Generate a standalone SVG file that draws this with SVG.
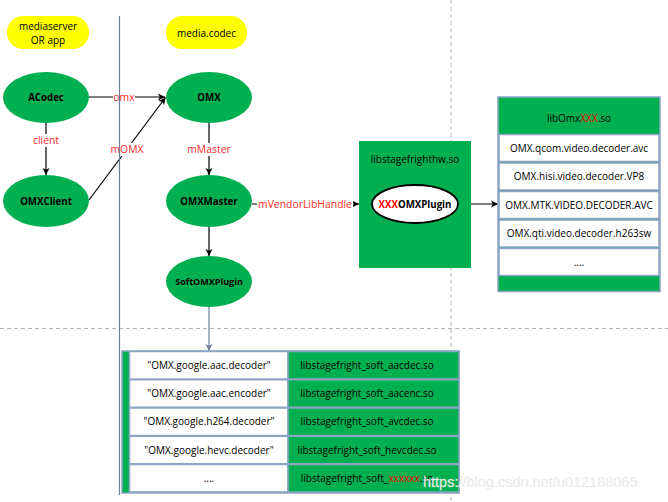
<svg xmlns="http://www.w3.org/2000/svg" width="668" height="502" viewBox="0 0 668 502">
<defs>
<marker id="ah" markerWidth="8" markerHeight="8" refX="7" refY="4" orient="auto" markerUnits="userSpaceOnUse">
<path d="M0,0.5 L7,4 L0,7.5 L1.8,4 Z" fill="#000"/>
</marker>
<marker id="ahb" markerWidth="8" markerHeight="8" refX="7" refY="4" orient="auto" markerUnits="userSpaceOnUse">
<path d="M0,0.5 L7,4 L0,7.5 L1.8,4 Z" fill="#6F8399"/>
</marker>
<style>
text{font-family:"Open Sans","Noto Sans","Liberation Sans",sans-serif;font-size:10px;fill:#000;text-anchor:middle}
.b{font-weight:bold;font-size:9.7px}
.r{fill:#FF0000}
.lbl{fill:#FF2A2A;font-size:10.4px}
.yl{fill:#FFFF00}
.gr{fill:#00B050}
.edge{stroke:#000;stroke-width:1.2;fill:none}
.cell{stroke:#8EA4C4;stroke-width:1.5}
.dash{stroke:#B3B3B3;stroke-width:1;stroke-dasharray:4 3;fill:none}
.wm{font-family:"Liberation Sans",Arial,sans-serif;font-size:14.5px;fill:#E2E2E2;text-anchor:start;stroke:#fff;stroke-width:0.4;stroke-opacity:0.6}
</style>
</defs>
<rect width="668" height="502" fill="#fff"/>
<g id="guides">
<line class="dash" x1="451" y1="0" x2="451" y2="502"/>
<line class="dash" x1="0" y1="328.5" x2="668" y2="328.5"/>
</g>
<g id="lane-mediaserver"><rect class="yl" x="7" y="16" width="82" height="33" rx="16"/><text x="48" y="29.5">mediaserver</text><text x="48" y="43.5">OR app</text></g>
<g id="lane-mediacodec"><rect class="yl" x="166" y="16" width="81" height="33" rx="16"/><text x="206.5" y="36.5">media.codec</text></g>
<g id="connectors">
<line class="edge" x1="89" y1="97" x2="165" y2="97" marker-end="url(#ah)"/>
<line class="edge" x1="46" y1="123" x2="46" y2="175" marker-end="url(#ah)"/>
<line class="edge" x1="89" y1="200" x2="165.5" y2="97.5" marker-end="url(#ah)" stroke-width="0.8"/>
<line class="edge" x1="209" y1="123" x2="209" y2="175" marker-end="url(#ah)"/>
<line class="edge" x1="209" y1="227" x2="209" y2="256" marker-end="url(#ah)"/>
<line class="edge" x1="252" y1="204" x2="359" y2="204" marker-end="url(#ah)"/>
<line class="edge" x1="458" y1="204" x2="498" y2="204" marker-end="url(#ah)"/>
<line x1="209" y1="307" x2="209" y2="351" stroke="#6F8399" stroke-width="1.2" marker-end="url(#ahb)"/>
<rect x="113" y="90" width="22" height="13" fill="#fff"/><text class="lbl" x="124" y="100.5">omx</text>
<rect x="30" y="134" width="32" height="13" fill="#fff"/><text class="lbl" x="46" y="144">client</text>
<rect x="110" y="143" width="34" height="13" fill="#fff"/><text class="lbl" x="127" y="152.5">mOMX</text>
<rect x="187" y="143" width="44" height="13" fill="#fff"/><text class="lbl" x="209" y="152.5">mMaster</text>
<rect x="257" y="198" width="96" height="13" fill="#fff"/><text class="lbl" x="305" y="207.5">mVendorLibHandle</text>
</g>
<line x1="119.5" y1="16" x2="119.5" y2="495" stroke="#6D7F92" stroke-width="1.2"/>
<g id="ACodec"><ellipse class="gr" cx="46" cy="97.5" rx="43" ry="25.5"/><text class="b" x="46" y="101">ACodec</text></g>
<g id="OMXClient"><ellipse class="gr" cx="46" cy="201" rx="43" ry="26"/><text class="b" x="46" y="204.5">OMXClient</text></g>
<g id="OMX"><ellipse class="gr" cx="209" cy="97.5" rx="43" ry="25.5"/><text class="b" x="209" y="101">OMX</text></g>
<g id="OMXMaster"><ellipse class="gr" cx="209" cy="201" rx="43" ry="26"/><text class="b" x="209" y="204.5">OMXMaster</text></g>
<g id="SoftOMXPlugin"><ellipse class="gr" cx="209" cy="281.5" rx="43" ry="25.5"/><text class="b" x="209" y="285" style="font-size:9px">SoftOMXPlugin</text></g>
<g id="libstagefrighthw">
<rect class="gr" x="359" y="141" width="112" height="127"/>
<text x="415" y="162.5">libstagefrighthw.so</text>
</g>
<g id="XXXOMXPlugin"><ellipse cx="415" cy="204" rx="43" ry="19" fill="#fff" stroke="#000" stroke-width="1.8"/><text class="b" x="415" y="207.5"><tspan class="r">XXX</tspan>OMXPlugin</text></g>
<g id="libOmxXXX">
<rect class="gr cell" x="498" y="97" width="162" height="194.5"/>
<text x="579" y="121.5">libOmx<tspan class="r">XXX</tspan>.so</text>
<rect class="cell" x="499" y="134.5" width="160" height="27" fill="#fff"/><text x="579" y="151.5">OMX.qcom.video.decoder.avc</text>
<rect class="cell" x="499" y="163" width="160" height="27" fill="#fff"/><text x="579" y="180">OMX.hisi.video.decoder.VP8</text>
<rect class="cell" x="499" y="191.5" width="160" height="27" fill="#fff"/><text x="579" y="208.5">OMX.MTK.VIDEO.DECODER.AVC</text>
<rect class="cell" x="499" y="220" width="160" height="27" fill="#fff"/><text x="579" y="237">OMX.qti.video.decoder.h263sw</text>
<rect class="cell" x="499" y="248.5" width="160" height="27" fill="#fff"/><text x="579" y="265.5">....</text>
</g>
<g id="softTable">
<rect class="gr cell" x="122" y="351" width="337" height="142"/>
<rect class="cell" x="129.5" y="351.5" width="158.5" height="27.5" fill="#fff"/><rect class="cell gr" x="288" y="351.5" width="171" height="27.5"/>
<text x="209" y="369">"OMX.google.aac.decoder"</text><text x="367" y="369">libstagefright_soft_aacdec.so</text>
<rect class="cell" x="129.5" y="379.75" width="158.5" height="27.5" fill="#fff"/><rect class="cell gr" x="288" y="379.75" width="171" height="27.5"/>
<text x="209" y="397">"OMX.google.aac.encoder"</text><text x="367" y="397">libstagefright_soft_aacenc.so</text>
<rect class="cell" x="129.5" y="408" width="158.5" height="27.5" fill="#fff"/><rect class="cell gr" x="288" y="408" width="171" height="27.5"/>
<text x="209" y="424.5">"OMX.google.h264.decoder"</text><text x="367" y="424.5">libstagefright_soft_avcdec.so</text>
<rect class="cell" x="129.5" y="436.25" width="158.5" height="27.5" fill="#fff"/><rect class="cell gr" x="288" y="436.25" width="171" height="27.5"/>
<text x="209" y="453.5">"OMX.google.hevc.decoder"</text><text x="367" y="453.5">libstagefright_soft_hevcdec.so</text>
<rect class="cell" x="129.5" y="464.5" width="158.5" height="27.5" fill="#fff"/><rect class="cell gr" x="288" y="464.5" width="171" height="27.5"/>
<text x="209" y="481.5">....</text><text x="367" y="481.5">libstagefright_soft_<tspan class="r">xxxxxx</tspan>.so</text>
</g>
<text class="wm" x="423" y="487">https://blog.csdn.net/u012188065</text>
</svg>
